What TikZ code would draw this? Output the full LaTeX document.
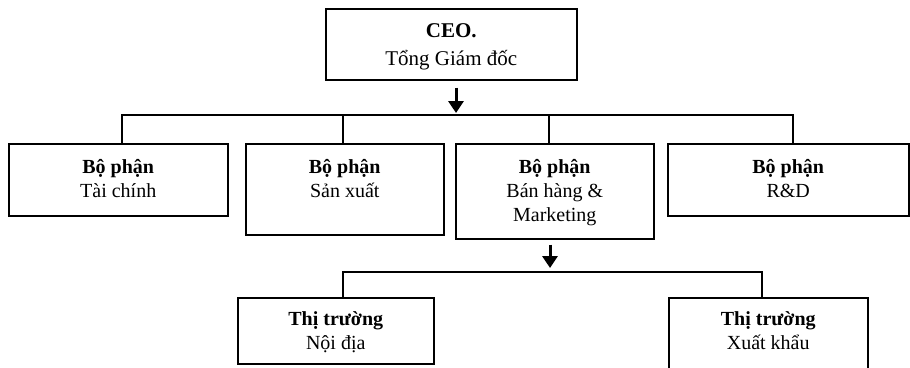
\documentclass[tikz,border=0pt]{standalone}
\usepackage{fontspec}
\setmainfont{Liberation Serif}
\usetikzlibrary{arrows.meta}
\begin{document}
\begin{tikzpicture}[x=1pt,y=1pt,
  box/.style={draw, line width=1.5pt, rectangle, inner sep=0pt, anchor=north west},
  lbl/.style={anchor=north, inner sep=0pt, align=center, font=\fontsize{20}{24}\selectfont},
  ceolbl/.style={anchor=north, inner sep=0pt, align=center, font=\fontsize{21}{28}\selectfont},
  conn/.style={line width=1.5pt},
  bigarrow/.style={line width=3pt, -{Triangle[width=15pt,length=12pt]}}]
\useasboundingbox (0,0) rectangle (910,-367);
\clip (0,0) rectangle (910,-367);
% boxes
\node[box, minimum width=251, minimum height=71] (ceo) at (325,-8) {};
\node[box, minimum width=219, minimum height=72] (fin) at (8,-143) {};
\node[box, minimum width=198, minimum height=91] (prod) at (245,-143) {};
\node[box, minimum width=198, minimum height=95] (sales) at (455,-143) {};
\node[box, minimum width=241, minimum height=72] (rd) at (667,-143) {};
\node[box, minimum width=196, minimum height=66] (dom) at (237,-297) {};
\node[box, minimum width=199, minimum height=90] (exp) at (668,-297) {};
% labels
\node[ceolbl] (ceot) at ([yshift=-9.4]ceo.north) {\strut\textbf{CEO.}\\Tổng Giám đốc};
\node[lbl] (fint) at ([yshift=-13.2]fin.north) {\strut\textbf{Bộ phận}\\Tài chính};
\node[lbl] (prodt) at ([yshift=-13.2]prod.north) {\strut\textbf{Bộ phận}\\Sản xuất};
\node[lbl] (salest) at ([yshift=-13.2]sales.north) {\strut\textbf{Bộ phận}\\Bán hàng \&\\Marketing};
\node[lbl] (rdt) at ([yshift=-13.2]rd.north) {\strut\textbf{Bộ phận}\\R\&D};
\node[lbl] (domt) at ([yshift=-11]dom.north) {\strut\textbf{Thị trường}\\Nội địa};
\node[lbl] (expt) at ([yshift=-11]exp.north) {\strut\textbf{Thị trường}\\Xuất khẩu};
% upper bus
\coordinate (bL) at (122,-115);
\coordinate (bS) at (343,-115);
\coordinate (bM) at (549,-115);
\coordinate (bR) at (793,-115);
\coordinate (a1) at (456,-115);
\draw[conn] (bL |- fin.north) -- (bL) -- (bR) -- (bR |- rd.north);
\draw[conn] (bS) -- (bS |- prod.north);
\draw[conn] (bM) -- (bM |- sales.north);
\draw[bigarrow, shorten <=7pt, shorten >=2pt] (a1 |- ceo.south) -- (a1);
% lower bus
\coordinate (cL) at (343,-272);
\coordinate (cR) at (762,-272);
\coordinate (a2) at (550,-272);
\draw[conn] (cL |- dom.north) -- (cL) -- (cR) -- (cR |- exp.north);
\draw[bigarrow, shorten <=5pt, shorten >=4pt] (a2 |- sales.south) -- (a2);
\end{tikzpicture}
\end{document}
